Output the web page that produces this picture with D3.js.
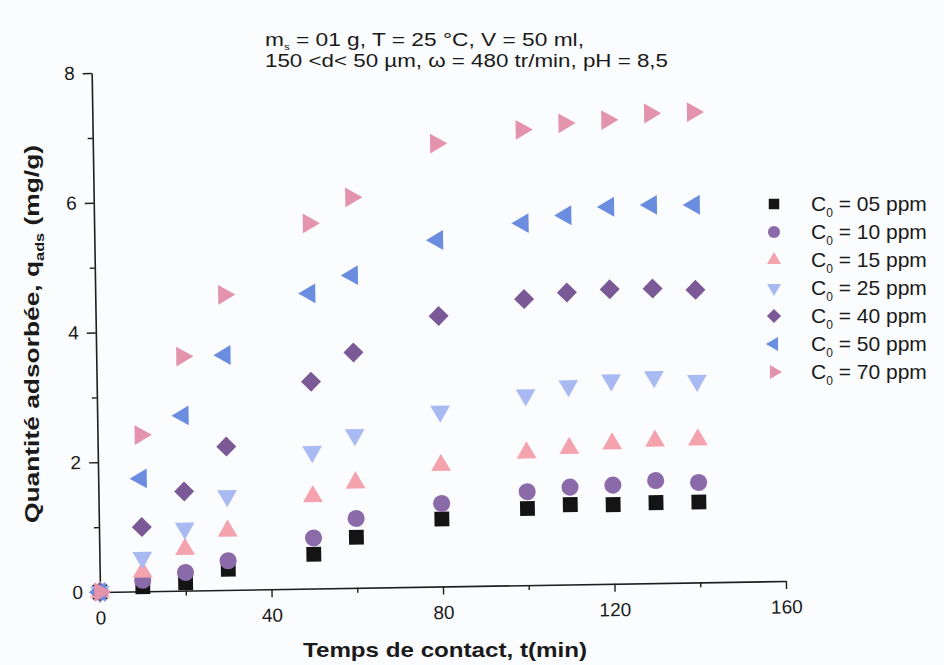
<!DOCTYPE html>
<html>
<head>
<meta charset="utf-8">
<script src="https://cdn.jsdelivr.net/npm/d3@7"></script>
<style>
body { margin: 0; background: #fbfcfe; }
text { font-family: "Liberation Sans", Arial, sans-serif; fill: #1a1a1a; }
.narrow { font-family: "Liberation Sans Narrow", "Liberation Sans", Arial, sans-serif; }
</style>
</head>
<body>
<svg id="plot" width="944" height="665"></svg>
<script>

// contact time (min)
const TIMES = [0, 10, 20, 30, 50, 60, 80, 100, 110, 120, 130, 140];

// q_ads (mg/g), one list per initial concentration
const Q_05 = [0, 0.07, 0.12, 0.32, 0.53, 0.78, 1.04, 1.18, 1.23, 1.22, 1.24, 1.24];
const Q_10 = [0, 0.17, 0.28, 0.45, 0.78, 1.07, 1.28, 1.44, 1.50, 1.52, 1.58, 1.54];
const Q_15 = [0, 0.30, 0.64, 0.91, 1.42, 1.62, 1.87, 2.04, 2.10, 2.16, 2.19, 2.20];
const Q_25 = [0, 0.52, 0.96, 1.45, 2.11, 2.36, 2.70, 2.93, 3.06, 3.14, 3.18, 3.11];
const Q_40 = [0, 0.99, 1.53, 2.21, 3.19, 3.63, 4.17, 4.41, 4.50, 4.54, 4.54, 4.51];
const Q_50 = [0, 1.74, 2.70, 3.62, 4.55, 4.82, 5.34, 5.58, 5.69, 5.81, 5.83, 5.82];
const Q_70 = [0, 2.41, 3.61, 4.55, 5.63, 6.02, 6.83, 7.02, 7.11, 7.15, 7.24, 7.25];

const SERIES_LABELS = ['05', '10', '15', '25', '40', '50', '70'];
const SERIES_VALUES = [Q_05, Q_10, Q_15, Q_25, Q_40, Q_50, Q_70];

const X_MAJOR = [0, 40, 80, 120, 160];
const X_MINOR = [20, 60, 100, 140];
const Y_MAJOR = [0, 2, 4, 6, 8];
const Y_MINOR = [1, 3, 5, 7];

// marker style per series: shape, size, rotation, colour
const STYLES = [
	{ type: d3.symbolSquare, size: 220, rot: 0, color: '#141414' },
	{ type: d3.symbolCircle, size: 230, rot: 0, color: '#8b6aa9' },
	{ type: d3.symbolTriangle, size: 170, rot: 0, color: '#f4a3ae' },
	{ type: d3.symbolTriangle, size: 170, rot: 180, color: '#a9baf3' },
	{ type: d3.symbolSquare, size: 200, rot: 45, color: '#7b5996' },
	{ type: d3.symbolTriangle, size: 170, rot: -90, color: '#6b8de0' },
	{ type: d3.symbolTriangle, size: 170, rot: 90, color: '#e393ac' }
];

const svg = d3.select('#plot');

// the scanned figure is tilted a little, so the plot group is rotated about the origin
const g = svg.append('g').attr('transform', 'translate(100,592) rotate(-0.92)');

const x = d3.scaleLinear().domain([0, 160]).range([0, 686]);
const y = d3.scaleLinear().domain([0, 8]).range([0, -519]);

function styleAxis(sel) {
	sel.select('.domain').attr('stroke', '#1e1e1e').attr('stroke-width', 1.6);
	sel.selectAll('.tick line').attr('stroke', '#1e1e1e').attr('stroke-width', 1.4);
	sel.selectAll('.tick text').style('font-size', '19px').attr('fill', '#1a1a1a');
}

g.append('g')
	.call(d3.axisBottom(x).tickValues(X_MAJOR).tickSize(8).tickPadding(11).tickSizeOuter(0))
	.call(styleAxis);
g.append('g')
	.call(d3.axisBottom(x).tickValues(X_MINOR).tickSize(5).tickFormat('').tickSizeOuter(0))
	.call(styleAxis)
	.call(s => s.select('.domain').remove());

g.append('g')
	.call(d3.axisLeft(y).tickValues(Y_MAJOR).tickSize(9).tickPadding(8).tickSizeOuter(0))
	.call(styleAxis);
g.append('g')
	.call(d3.axisLeft(y).tickValues(Y_MINOR).tickSize(5).tickFormat('').tickSizeOuter(0))
	.call(styleAxis)
	.call(s => s.select('.domain').remove());

// points
SERIES_VALUES.forEach((vals, k) => {
	const st = STYLES[k];
	const pts = TIMES.map((t, i) => ({ t: t, q: vals[i] }));
	g.append('g').selectAll('path')
		.data(pts)
		.enter().append('path')
		.attr('transform', d => `translate(${x(d.t)},${y(d.q)}) rotate(${st.rot})`)
		.attr('d', d3.symbol(st.type, st.size))
		.style('fill', st.color);
});

// legend
const legend = svg.append('g');
SERIES_LABELS.forEach((lab, k) => {
	const st = STYLES[k];
	const ly = 204 + k * 28;
	legend.append('path')
		.attr('transform', `translate(774,${ly}) rotate(${st.rot})`)
		.attr('d', d3.symbol(st.type, st.size * 0.5))
		.style('fill', st.color);
	const t = legend.append('text')
		.attr('x', 811).attr('y', ly + 7)
		.style('font-size', '21px');
	t.append('tspan').text('C');
	t.append('tspan').attr('dy', 6).style('font-size', '12px').text('0');
	t.append('tspan').attr('dy', -6).text(' = ' + lab + ' ppm');
});

// axis titles
const yt = svg.append('text')
	.attr('transform', 'translate(39,334) rotate(-90)')
	.attr('text-anchor', 'middle')
	.attr('textLength', 378).attr('lengthAdjust', 'spacingAndGlyphs')
	.style('font-size', '21px').style('font-weight', 'bold');
yt.append('tspan').text('Quantité adsorbée, q');
yt.append('tspan').attr('dy', 5).style('font-size', '13px').text('ads');
yt.append('tspan').attr('dy', -5).text(' (mg/g)');

svg.append('text')
	.attr('x', 445).attr('y', 657)
	.attr('text-anchor', 'middle')
	.attr('textLength', 284).attr('lengthAdjust', 'spacingAndGlyphs')
	.style('font-size', '21px').style('font-weight', 'bold')
	.text('Temps de contact, t(min)');

// experimental conditions
const c1 = svg.append('text').attr('class', 'narrow')
	.attr('x', 265).attr('y', 46)
	.attr('textLength', 319).attr('lengthAdjust', 'spacingAndGlyphs')
	.style('font-size', '18px');
c1.append('tspan').text('m');
c1.append('tspan').attr('dy', 4).style('font-size', '9px').text('s');
c1.append('tspan').attr('dy', -4).text(' = 01 g, T = 25 °C, V = 50 ml,');

svg.append('text').attr('class', 'narrow')
	.attr('x', 265).attr('y', 67)
	.attr('textLength', 403).attr('lengthAdjust', 'spacingAndGlyphs')
	.style('font-size', '18px')
	.text('150 <d< 50 µm, ω = 480 tr/min, pH = 8,5');

</script>
</body>
</html>
